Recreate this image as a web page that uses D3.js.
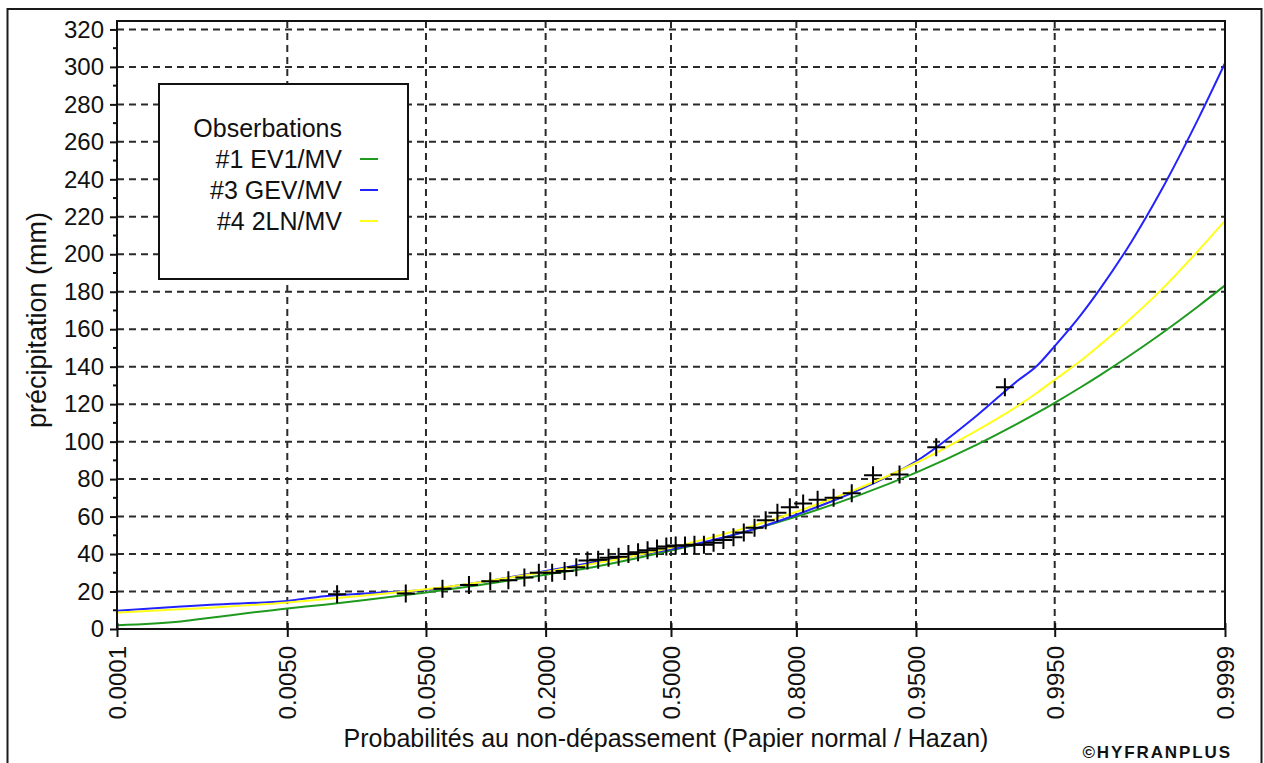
<!DOCTYPE html>
<html>
<head>
<meta charset="utf-8">
<script src="https://cdn.jsdelivr.net/npm/d3@7"></script>
<style>
  html, body { margin: 0; padding: 0; background: #fff; }
  svg { display: block; }
  text { font-family: "Liberation Sans", Arial, sans-serif; fill: #111; }
</style>
</head>
<body>
<svg id="chart" width="1264" height="763"></svg>
<script>
// ---------------- DATA ----------------
const xTickValues = [0.0001, 0.005, 0.05, 0.2, 0.5, 0.8, 0.95, 0.995, 0.9999];
const xTickLabels = ["0.0001", "0.0050", "0.0500", "0.2000", "0.5000", "0.8000", "0.9500", "0.9950", "0.9999"];
const yTickValues = [0, 20, 40, 60, 80, 100, 120, 140, 160, 180, 200, 220, 240, 260, 280, 300, 320];
const yTickLabels = ["0", "20", "40", "60", "80", "100", "120", "140", "160", "180", "200", "220", "240", "260", "280", "300", "320"];

// Observations (sorted), plotted at Hazen positions (i-0.5)/n
const obsProb = [0.0125, 0.0375, 0.0625, 0.0875, 0.1125, 0.1375, 0.1625, 0.1875, 0.2125, 0.2375,
                 0.2625, 0.2875, 0.3125, 0.3375, 0.3625, 0.3875, 0.4125, 0.4375, 0.4625, 0.4875,
                 0.5125, 0.5375, 0.5625, 0.5875, 0.6125, 0.6375, 0.6625, 0.6875, 0.7125, 0.7375,
                 0.7625, 0.7875, 0.8125, 0.8375, 0.8625, 0.8875, 0.9125, 0.9375, 0.9625, 0.9875];
const obsValue = [18.5, 19, 21.5, 23.5, 25.5, 26, 27.5, 30, 30, 31,
                  33, 36.5, 37, 38, 38.5, 40, 41, 42, 43, 44,
                  44.5, 44.5, 45, 45, 46, 47.5, 49, 51.5, 54, 58,
                  62, 65, 67, 69, 70, 72.5, 82, 82.5, 97, 129];

// Fitted curves read along a common probability grid
const curveProb = [0.0001, 0.0005, 0.001, 0.005, 0.01, 0.02, 0.05, 0.1, 0.2, 0.3, 0.4, 0.5,
                   0.6, 0.7, 0.8, 0.9, 0.95, 0.98, 0.99, 0.993, 0.995, 0.997, 0.998, 0.999,
                   0.9995, 0.9998, 0.9999];
const ev1Values = [2, 4, 6, 11, 13, 15.5, 19.5, 23.5, 29, 33, 37.4, 41.9,
                   46.7, 52.5, 60, 72, 83.5, 98.4, 109.6, 115.3, 120.7, 128.9, 135.4, 146.5,
                   157.6, 172.3, 183.4];
const gevValues = [9.8, 12, 13, 15, 17.5, 19, 21, 25, 31, 35.5, 39, 42.5,
                   47, 52.5, 61, 75, 89.5, 114, 132.5, 140.5, 151, 167.3, 181.3, 206.6,
                   234, 272.4, 302];
const lnValues  = [8.8, 10.5, 11.4, 14.1, 15.9, 17.9, 21.2, 25, 30.5, 34.8, 39, 43.4,
                   48.5, 54.5, 62.6, 75.8, 88.6, 106, 119, 126.1, 133, 143, 151.5, 166,
                   181, 202, 218];

const seriesNames  = ["#1 EV1/MV", "#3 GEV/MV", "#4 2LN/MV"];
const seriesColors = ["#1f9a1f", "#2323ff", "#ffff1a"];
const legendTitle = "Obserbations";
const xTitle = "Probabilités au non-dépassement (Papier normal / Hazan)";
const yTitle = "précipitation (mm)";
const credit = "©HYFRANPLUS";

// ---------------- HELPERS ----------------
// inverse standard normal CDF (Acklam) — normal probability paper transform
function probit(p) {
  const a = [-3.969683028665376e+01, 2.209460984245205e+02, -2.759285104469687e+02,
             1.383577518672690e+02, -3.066479806614716e+01, 2.506628277459239e+00];
  const b = [-5.447609879822406e+01, 1.615858368580409e+02, -1.556989798598866e+02,
             6.680131188771972e+01, -1.328068155288572e+01];
  const c = [-7.784894002430293e-03, -3.223964580411365e-01, -2.400758277161838e+00,
             -2.549732539343734e+00, 4.374664141464968e+00, 2.938163982698783e+00];
  const d = [7.784695709041462e-03, 3.224671290700398e-01, 2.445134137142996e+00,
             3.754408661907416e+00];
  const pl = 0.02425, ph = 1 - pl;
  let q, r;
  if (p < pl) {
    q = Math.sqrt(-2 * Math.log(p));
    return (((((c[0]*q+c[1])*q+c[2])*q+c[3])*q+c[4])*q+c[5]) / ((((d[0]*q+d[1])*q+d[2])*q+d[3])*q+1);
  } else if (p <= ph) {
    q = p - 0.5; r = q * q;
    return (((((a[0]*r+a[1])*r+a[2])*r+a[3])*r+a[4])*r+a[5])*q / (((((b[0]*r+b[1])*r+b[2])*r+b[3])*r+b[4])*r+1);
  } else {
    q = Math.sqrt(-2 * Math.log(1 - p));
    return -(((((c[0]*q+c[1])*q+c[2])*q+c[3])*q+c[4])*q+c[5]) / ((((d[0]*q+d[1])*q+d[2])*q+d[3])*q+1);
  }
}

// ---------------- LAYOUT ----------------
const svg = d3.select("#chart");
const L = 117, R = 1225, T = 21, B = 629;

const zScale = d3.scaleLinear().domain([probit(0.0001), probit(0.9999)]).range([L, R]);
const x = p => zScale(probit(p));
const y = d3.scaleLinear().domain([0, 324.5]).range([B, T]);

// outer frame
svg.append("rect").attr("x", 7.5).attr("y", 9).attr("width", 1254).attr("height", 780)
  .attr("fill", "none").attr("stroke", "#1a1a1a").attr("stroke-width", 2);

// grid
const grid = svg.append("g").attr("stroke", "#2a2a2a").attr("stroke-width", 2)
  .attr("stroke-dasharray", "7,5");
yTickValues.filter(v => v > 0).forEach(v => {
  grid.append("line").attr("x1", L).attr("x2", R).attr("y1", y(v)).attr("y2", y(v));
});
xTickValues.slice(1, -1).forEach(p => {
  grid.append("line").attr("x1", x(p)).attr("x2", x(p)).attr("y1", T).attr("y2", B);
});

// curves
svg.append("clipPath").attr("id", "plotclip")
  .append("rect").attr("x", L).attr("y", T).attr("width", R - L).attr("height", B - T);
const line = d3.line().x(d => x(d[0])).y(d => y(d[1])).curve(d3.curveMonotoneX);
const curves = [ev1Values, gevValues, lnValues];
const cg = svg.append("g").attr("clip-path", "url(#plotclip)");
curves.forEach((vals, i) => {
  cg.append("path").datum(curveProb.map((p, k) => [p, vals[k]]))
    .attr("d", line).attr("fill", "none")
    .attr("stroke", seriesColors[i]).attr("stroke-width", 2);
});

// observations as "+"
const obs = svg.append("g").attr("stroke", "#000").attr("stroke-width", 2);
obsProb.forEach((p, i) => {
  const cx = x(p), cy = y(obsValue[i]), s = 9;
  obs.append("path").attr("d", `M${cx - s},${cy}H${cx + s}M${cx},${cy - s}V${cy + s}`);
});

// plot frame
svg.append("rect").attr("x", L).attr("y", T).attr("width", R - L).attr("height", B - T)
  .attr("fill", "none").attr("stroke", "#111").attr("stroke-width", 2);

// y axis
const yAxis = d3.axisLeft(y).tickValues(yTickValues)
  .tickFormat((d, i) => yTickLabels[i]).tickSize(7).tickPadding(6);
const yg = svg.append("g").attr("transform", `translate(${L},0)`).call(yAxis);
yg.select(".domain").remove();
yg.selectAll("line").attr("stroke", "#111").attr("stroke-width", 2);
yg.selectAll("text").attr("font-size", 24).attr("fill", "#111")
  .style("font-family", '"Liberation Sans", Arial, sans-serif');
// minor y ticks
const yMinor = d3.range(10, 321, 20);
svg.append("g").selectAll("line").data(yMinor).join("line")
  .attr("x1", L - 4).attr("x2", L).attr("y1", d => y(d)).attr("y2", d => y(d))
  .attr("stroke", "#111").attr("stroke-width", 2);

// x axis
const xAxis = d3.axisBottom(zScale).tickValues(xTickValues.map(probit))
  .tickFormat((d, i) => xTickLabels[i]).tickSize(8).tickSizeOuter(0);
const xg = svg.append("g").attr("transform", `translate(0,${B})`).call(xAxis);
xg.select(".domain").remove();
xg.selectAll(".tick line").attr("y1", -6).attr("stroke", "#111").attr("stroke-width", 2);
xg.selectAll(".tick text")
  .attr("font-size", 24).attr("fill", "#111")
  .style("font-family", '"Liberation Sans", Arial, sans-serif')
  .attr("text-anchor", "end")
  .attr("transform", "translate(0,17) rotate(-90)")
  .attr("x", 0).attr("y", 0).attr("dy", "0.35em");

// axis titles
svg.append("text").attr("x", 666).attr("y", 747).attr("text-anchor", "middle")
  .attr("font-size", 25).text(xTitle);
svg.append("text").attr("transform", "translate(46,320) rotate(-90)")
  .attr("text-anchor", "middle").attr("font-size", 27).text(yTitle);
svg.append("text").attr("x", 1232).attr("y", 758).attr("text-anchor", "end")
  .attr("font-size", 17).attr("font-weight", "bold").attr("letter-spacing", 1.9).text(credit);

// legend
const lg = svg.append("g");
lg.append("rect").attr("x", 159).attr("y", 84).attr("width", 249).attr("height", 195)
  .attr("fill", "#fff").attr("stroke", "#111").attr("stroke-width", 2);
lg.append("text").attr("x", 342).attr("y", 137).attr("text-anchor", "end")
  .attr("font-size", 25).text(legendTitle);
seriesNames.forEach((name, i) => {
  const by = 168 + i * 31;
  lg.append("text").attr("x", 342).attr("y", by).attr("text-anchor", "end")
    .attr("font-size", 25).text(name);
  lg.append("line").attr("x1", 360).attr("x2", 378).attr("y1", by - 9).attr("y2", by - 9)
    .attr("stroke", seriesColors[i]).attr("stroke-width", 2);
});
</script>
</body>
</html>
